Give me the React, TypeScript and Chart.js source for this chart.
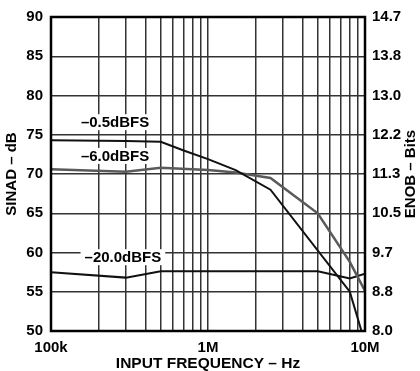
import React, { useEffect, useRef } from "react";
import { Chart, registerables } from "chart.js";

Chart.register(...registerables);

// -0.5 dBFS
const freqA = [1e5, 3e5, 5e5, 7e5, 1e6, 1.5e6, 2.5e6, 8e6, 9.5e6];
const sinadA = [74.3, 74.2, 74.1, 73.0, 71.9, 70.5, 68.0, 55.0, 50.0];
// -6.0 dBFS
const freqB = [1e5, 3e5, 5e5, 1e6, 1.5e6, 2.5e6, 5e6, 8e6, 1e7];
const sinadB = [70.6, 70.3, 70.8, 70.5, 70.2, 69.5, 65.0, 58.8, 55.1];
// -20.0 dBFS
const freqC = [1e5, 3e5, 5e5, 5e6, 6.5e6, 8e6, 1e7];
const sinadC = [57.5, 56.8, 57.6, 57.6, 57.1, 56.7, 57.3];

const seriesLabels = ["–0.5dBFS", "–6.0dBFS", "–20.0dBFS"];
const sinadTicks = [50, 55, 60, 65, 70, 75, 80, 85, 90];
const enobTicks = ["8.0", "8.8", "9.7", "10.5", "11.3", "12.2", "13.0", "13.8", "14.7"];
const freqGrid = [
  1e5, 2e5, 3e5, 4e5, 5e5, 6e5, 7e5, 8e5, 9e5,
  1e6, 2e6, 3e6, 4e6, 5e6, 6e6, 7e6, 8e6, 9e6, 1e7,
];
const freqLabels: Record<number, string> = { 100000: "100k", 1000000: "1M", 10000000: "10M" };

const FONT = "'Liberation Sans', Arial, sans-serif";

const pts = (xs: number[], ys: number[]) => xs.map((x, i) => ({ x, y: ys[i] }));

const annotPlugin = {
  id: "annot",
  afterDatasetsDraw(chart: any) {
    const { ctx, chartArea, scales } = chart;
    const x = scales.x;
    const y = scales.y;
    ctx.save();
    // frame
    ctx.strokeStyle = "#000";
    ctx.lineWidth = 2.5;
    ctx.strokeRect(chartArea.left, chartArea.top, chartArea.right - chartArea.left, chartArea.bottom - chartArea.top);
    // series labels with white background
    const labelPos = [
      { f: 2.56e5, v: 76.6 },
      { f: 2.56e5, v: 72.3 },
      { f: 2.87e5, v: 59.4 },
    ];
    ctx.font = `bold 15px ${FONT}`;
    ctx.textAlign = "center";
    ctx.textBaseline = "middle";
    seriesLabels.forEach((t, i) => {
      const px = x.getPixelForValue(labelPos[i].f);
      const py = y.getPixelForValue(labelPos[i].v);
      const w = ctx.measureText(t).width;
      ctx.fillStyle = "#fff";
      ctx.fillRect(px - w / 2 - 4, py - 8, w + 8, 16);
      ctx.fillStyle = "#000";
      ctx.fillText(t, px, py + 0.5);
    });
    // axis titles
    ctx.font = `bold 15px ${FONT}`;
    const cy = (chartArea.top + chartArea.bottom) / 2;
    ctx.save();
    ctx.translate(12, cy);
    ctx.rotate(-Math.PI / 2);
    ctx.fillText("SINAD – dB", 0, 0);
    ctx.restore();
    ctx.save();
    ctx.translate(411, cy);
    ctx.rotate(-Math.PI / 2);
    ctx.fillText("ENOB – Bits", 0, 0);
    ctx.restore();
    ctx.font = `bold 15.5px ${FONT}`;
    ctx.fillText("INPUT FREQUENCY – Hz", (chartArea.left + chartArea.right) / 2, 364);
    ctx.restore();
  },
};

export default function App() {
  const ref = useRef<HTMLCanvasElement | null>(null);
  useEffect(() => {
    if (!ref.current) return;
    const gridColor = "#333";
    const tickFont = { family: FONT, size: 15, weight: "bold" as const };
    const chart = new Chart(ref.current, {
      type: "line",
      data: {
        datasets: [
          { label: seriesLabels[0], data: pts(freqA, sinadA), borderColor: "#111", borderWidth: 2, pointRadius: 0, tension: 0 },
          { label: seriesLabels[1], data: pts(freqB, sinadB), borderColor: "#5a5a5a", borderWidth: 2.5, pointRadius: 0, tension: 0 },
          { label: seriesLabels[2], data: pts(freqC, sinadC), borderColor: "#111", borderWidth: 2, pointRadius: 0, tension: 0 },
        ],
      },
      options: {
        responsive: false,
        animation: false,
        layout: { padding: { top: 17, left: 0, right: 0, bottom: 0 } },
        plugins: { legend: { display: false }, tooltip: { enabled: false }, title: { display: false } },
        scales: {
          x: {
            type: "logarithmic",
            min: 1e5,
            max: 1e7,
            afterBuildTicks: (s: any) => {
              s.ticks = freqGrid.map((v) => ({ value: v }));
            },
            afterFit: (s: any) => {
              s.height = 40;
            },
            ticks: {
              autoSkip: false,
              maxRotation: 0,
              padding: 8,
              color: "#000",
              font: tickFont,
              callback: (v: any) => freqLabels[Math.round(Number(v))] ?? "",
            },
            grid: { color: gridColor, lineWidth: 1.5, drawTicks: false },
            border: { display: false },
          },
          y: {
            type: "linear",
            position: "left",
            min: 50,
            max: 90,
            afterBuildTicks: (s: any) => {
              s.ticks = sinadTicks.map((v) => ({ value: v }));
            },
            afterFit: (s: any) => {
              s.width = 51;
            },
            ticks: { padding: 8, color: "#000", font: tickFont, callback: (v: any) => String(v) },
            grid: { color: gridColor, lineWidth: 1.5, drawTicks: false },
            border: { display: false },
          },
          y2: {
            type: "linear",
            position: "right",
            min: 50,
            max: 90,
            afterBuildTicks: (s: any) => {
              s.ticks = sinadTicks.map((v) => ({ value: v }));
            },
            afterFit: (s: any) => {
              s.width = 55;
            },
            ticks: {
              padding: 7,
              color: "#000",
              font: tickFont,
              callback: (v: any) => enobTicks[sinadTicks.indexOf(Number(v))] ?? "",
            },
            grid: { display: false, drawTicks: false },
            border: { display: false },
          },
        },
      },
      plugins: [annotPlugin],
    });
    return () => chart.destroy();
  }, []);
  return (
    <div style={{ position: "absolute", left: 0, top: 0, width: 420, height: 371, background: "#fff" }}>
      <canvas ref={ref} width={420} height={371} style={{ display: "block" }} />
    </div>
  );
}
